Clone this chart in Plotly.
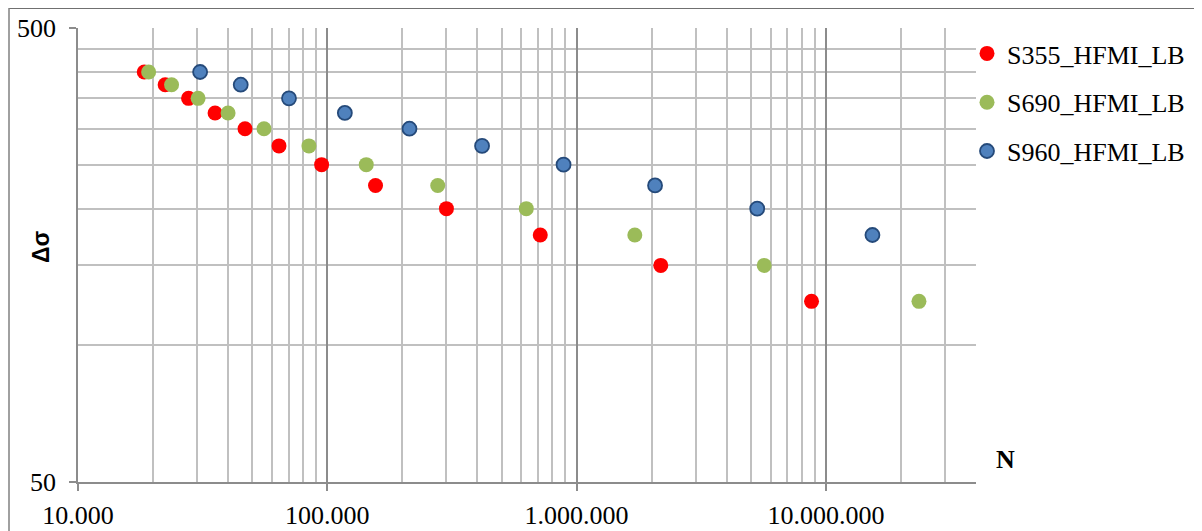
import plotly.graph_objects as go

stress = [400, 375, 350, 325, 300, 275, 250, 225, 200, 175, 150, 125]
n_s355 = [18440, 22370, 27760, 35470, 46770, 64000, 94880, 156100, 300500, 714900, 2176000, 8756000]
n_s690 = [19200, 23730, 30320, 39990, 55740, 84390, 143300, 277300, 628300, 1712000, 5655000, 23620000]
stress_s960 = [400, 375, 350, 325, 300, 275, 250, 225, 200, 175]
n_s960 = [30890, 44950, 70200, 117600, 213600, 417600, 886300, 2064000, 5302000, 15370000]

x_major = [1e4, 1e5, 1e6, 1e7]
x_major_text = ["10.000", "100.000", "1.000.000", "10.000.000"]
x_minor = [m * 10 ** e for e in (4, 5, 6) for m in range(2, 10)] + [2e7, 3e7, 4e7]
y_major = [50, 500]
y_minor = [100, 150, 200, 250, 300, 350, 400, 450]

FONT = "Liberation Serif, Times New Roman, serif"
MAJ = "#8c8c8c"
MIN = "#c0c0c0"

fig = go.Figure()
fig.add_trace(go.Scatter(x=n_s355, y=stress, mode="markers", name="S355_HFMI_LB",
                         legendgroup="a",
                         marker=dict(size=15, color="#FF0000", line=dict(width=0))))
fig.add_trace(go.Scatter(x=n_s690, y=stress, mode="markers", name="S690_HFMI_LB",
                         legendgroup="b",
                         marker=dict(size=15, color="#9BBB59", line=dict(width=0))))
fig.add_trace(go.Scatter(x=n_s960, y=stress_s960, mode="markers", name="S960_HFMI_LB",
                         legendgroup="c",
                         marker=dict(size=14, color="#4F81BD", line=dict(width=1.8, color="#254A7A"))))

# page body has an 8px margin; work in screen pixels and convert
OFF = 8
L, R, T, B = 78, 976, 28, 482
W, H = 1202 - OFF, 531 - OFF

def px(x):
    return (x - L) / (R - L)

def py(y):
    return (B - y) / (B - T)

fig.update_layout(
    width=W, height=H,
    margin=dict(l=L - OFF, r=1202 - R, t=T - OFF, b=531 - B, pad=0, autoexpand=False),
    paper_bgcolor="white", plot_bgcolor="white",
    font=dict(family=FONT, size=26, color="black"),
    showlegend=True,
    legend=dict(x=px(967), xanchor="left", y=py(30), yanchor="top",
                font=dict(family=FONT, size=26, color="black"),
                tracegroupgap=12, itemwidth=30, bgcolor="rgba(0,0,0,0)"),
    xaxis=dict(type="log", range=[4, 7.60206], tickvals=x_major, ticktext=x_major_text,
               automargin=False,
               ticks="outside", ticklen=7, tickcolor=MAJ, tickwidth=1.5,
               showgrid=True, gridcolor=MAJ, gridwidth=1.5,
               showline=True, linecolor=MAJ, linewidth=1.5,
               ticklabelstandoff=2,
               tickfont=dict(family=FONT, size=26),
               minor=dict(tickvals=x_minor, showgrid=True, gridcolor=MIN, gridwidth=1.5, ticks=""),
               zeroline=False),
    yaxis=dict(type="log", range=[1.69897, 2.69897], tickvals=y_major, ticktext=["50", "500"],
               automargin=False,
               ticks="outside", ticklen=7, tickcolor=MAJ, tickwidth=1.5,
               showgrid=True, gridcolor=MAJ, gridwidth=1.5,
               showline=True, linecolor=MAJ, linewidth=1.5,
               ticklabelstandoff=8,
               tickfont=dict(family=FONT, size=26),
               minor=dict(tickvals=y_minor, showgrid=True, gridcolor=MIN, gridwidth=1.5, ticks=""),
               zeroline=False),
)

fig.add_annotation(text="<b>Δσ</b>", xref="paper", yref="paper", x=px(41), y=py(247),
                   xanchor="center", yanchor="middle", textangle=-90, showarrow=False,
                   font=dict(family="Liberation Sans, Arial, sans-serif", size=23, color="black"))
fig.add_annotation(text="<b>N</b>", xref="paper", yref="paper", x=px(994), y=py(459),
                   xanchor="left", yanchor="middle", showarrow=False,
                   font=dict(family=FONT, size=26, color="black"))

# outer chart-area frame (top and left edges visible in the reference)
fig.add_shape(type="line", xref="paper", yref="paper", x0=px(9), x1=px(1202), y0=py(8), y1=py(8),
              line=dict(color="#404040", width=1.5))
fig.add_shape(type="line", xref="paper", yref="paper", x0=px(9), x1=px(9), y0=py(8), y1=py(531),
              line=dict(color="#808080", width=1.5))

fig.write_html("out.html")
